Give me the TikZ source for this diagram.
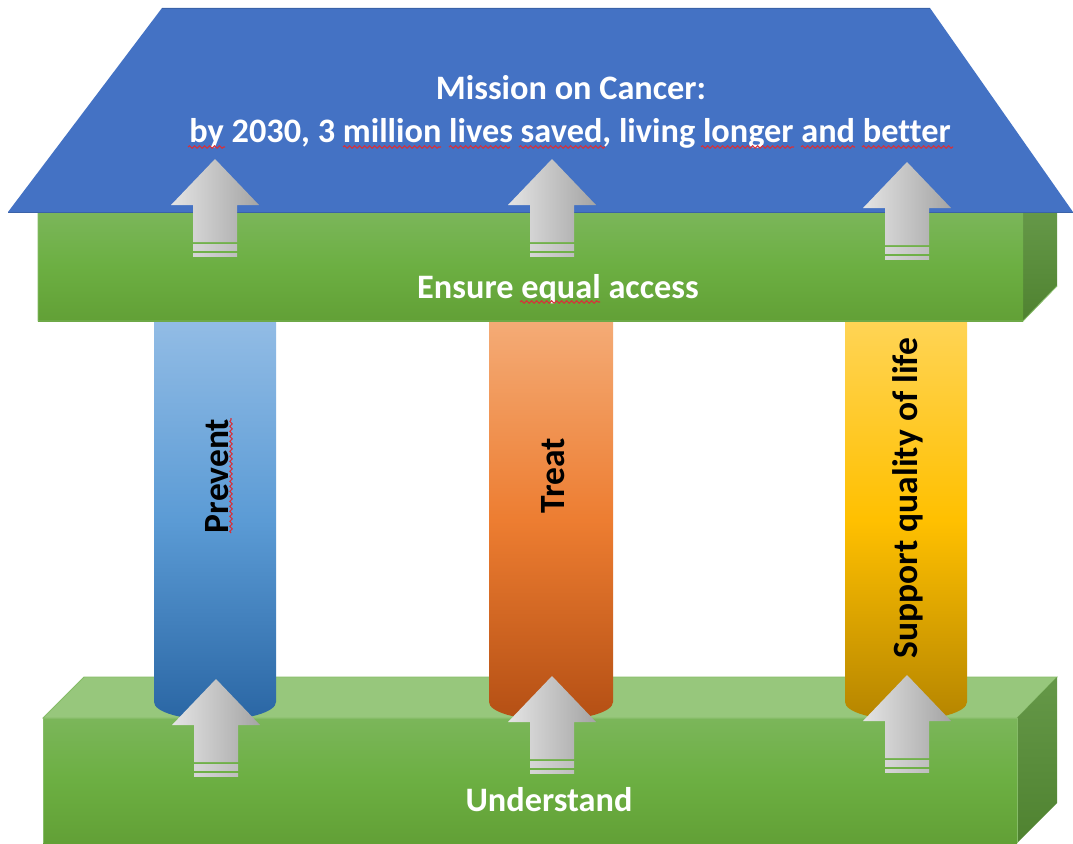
\documentclass[tikz,border=0pt]{standalone}
\usepackage{fontspec}
\setmainfont[Ligatures=NoCommon]{Carlito}
\usetikzlibrary{decorations.pathmorphing}
\definecolor{roofblue}{HTML}{4472C4}
\definecolor{roofedge}{HTML}{3A62A8}
\definecolor{greenT}{HTML}{7BB65A}
\definecolor{greenM}{HTML}{6CAF42}
\definecolor{greenB}{HTML}{62A036}
\definecolor{greenTop}{HTML}{97C77C}
\definecolor{greenEdge}{HTML}{86BC68}
\definecolor{sideT}{HTML}{659848}
\definecolor{sideB}{HTML}{4F8230}
\definecolor{wavyred}{HTML}{D8303A}
\definecolor{colBlueT}{HTML}{92BCE5}
\definecolor{colBlueM}{HTML}{5B9BD5}
\definecolor{colBlueB}{HTML}{2A66A4}
\definecolor{colOrT}{HTML}{F4AB76}
\definecolor{colOrM}{HTML}{ED7D31}
\definecolor{colOrB}{HTML}{B44F14}
\definecolor{colYeT}{HTML}{FFD455}
\definecolor{colYeM}{HTML}{FFC000}
\definecolor{colYeB}{HTML}{B58500}
\definecolor{arrowL}{HTML}{E4E4E4}
\definecolor{arrowR}{HTML}{A4A4A4}
\definecolor{stripeL}{HTML}{D6D6D6}
\definecolor{stripeR}{HTML}{BEBEBE}
\tikzset{
  x=1pt,y=-1pt,
  frontface/.style={top color=greenT,bottom color=greenB,middle color=greenM},
  sideface/.style={top color=sideT,bottom color=sideB},
  bluecol/.style={top color=colBlueT,bottom color=colBlueB,middle color=colBlueM},
  orangecol/.style={top color=colOrT,bottom color=colOrB,middle color=colOrM},
  yellowcol/.style={top color=colYeT,bottom color=colYeB,middle color=colYeM},
  arrowbody/.style={left color=arrowL,right color=arrowR},
  arrowstripe/.style={left color=stripeL,right color=stripeR},
  whitelabel/.style={text=white,font=\bfseries\fontsize{34.3}{40}\selectfont,inner sep=0pt,anchor=center},
  blacklabel/.style={text=black,font=\bfseries\fontsize{35.5}{42}\selectfont,inner sep=0pt,anchor=center,rotate=90},
  spell/.style={draw=wavyred,line width=1.1pt,decorate,decoration={snake,amplitude=1.2pt,segment length=5pt}},
}
% tip x, tip y
\newcommand{\uparrowshape}[2]{%
  \begin{scope}[shift={(#1,#2)}]
    \shade[arrowbody] (0,0) -- (44,46) -- (22,46) -- (22,83) -- (-22,83) -- (-22,46) -- (-44,46) -- cycle;
    \shade[arrowstripe] (-22,85) rectangle (22,91);
    \shade[arrowstripe] (-22,94) rectangle (22,97);
  \end{scope}}
% left x, right x
\newcommand{\columnshape}[3]{%
  \shade[#3] (#1,321) -- (#2,321) -- (#2,702)
    .. controls (#2,712) and ({#2-28},720) .. ({(#1+#2)/2},720)
    .. controls ({#1+28},720) and (#1,712) .. (#1,702) -- cycle;}
\begin{document}
\begin{tikzpicture}
\useasboundingbox (0,0) rectangle (1073,843);
\fill[white] (0,0) rectangle (1073,843);
% lower box
\fill[greenTop,draw=greenEdge,line width=0.8pt] (43,718) -- (84,677) -- (1057,677) -- (1017,718) -- cycle;
\shade[sideface] (1017,718) -- (1057,677) -- (1057,803) -- (1017,843) -- cycle;
\shade[frontface] (43,718) rectangle (1017,843);
\draw[greenEdge,line width=0.8pt] (43,843) -- (43,718) -- (1017,718) -- (1017,843);
% columns
\columnshape{154}{276}{bluecol}
\columnshape{489}{613}{orangecol}
\columnshape{845}{967}{yellowcol}
% upper beam
\shade[sideface] (1023,212) -- (1057,212) -- (1057,286) -- (1023,321) -- cycle;
\shade[frontface] (38,212) rectangle (1023,321);
\draw[greenEdge,line width=0.8pt] (38,212) -- (38,321) -- (1023,321) -- (1057,286);
% roof
\fill[roofblue] (162,8) -- (930,8) -- (1073,212) -- (8,212) -- cycle;
\draw[roofedge,line width=0.9pt] (8,212) -- (1073,212) (162,8) -- (930,8);
% arrows
\uparrowshape{215}{159}
\uparrowshape{552}{159}
\uparrowshape{907}{162}
\uparrowshape{216}{679}
\uparrowshape{552}{676}
\uparrowshape{907}{675}
% labels
\node[whitelabel] (mission) at (571,88) {Mission on Cancer:};
\node[whitelabel] (saved) at (570,133) {by 2030, 3 million lives saved, living longer and better};
\node[whitelabel] (access) at (558,289) {Ensure equal access};
\node[whitelabel] (understand) at (549,800) {Understand};
\node[blacklabel] (prevent) at (217,476) {Prevent};
\node[blacklabel] (treat) at (553,476) {Treat};
\node[blacklabel] (support) at (908,498) {Support quality of life};
% spelling underlines
\foreach \a/\b in {188/225,343/441,449/510,519/605,701/794,801/855,862/953}
  \draw[spell] (\a,147) -- (\b,147);
\draw[spell] (520,302) -- (600,302);
\draw[spell] (231,533) -- (231,418);
\end{tikzpicture}
\end{document}
